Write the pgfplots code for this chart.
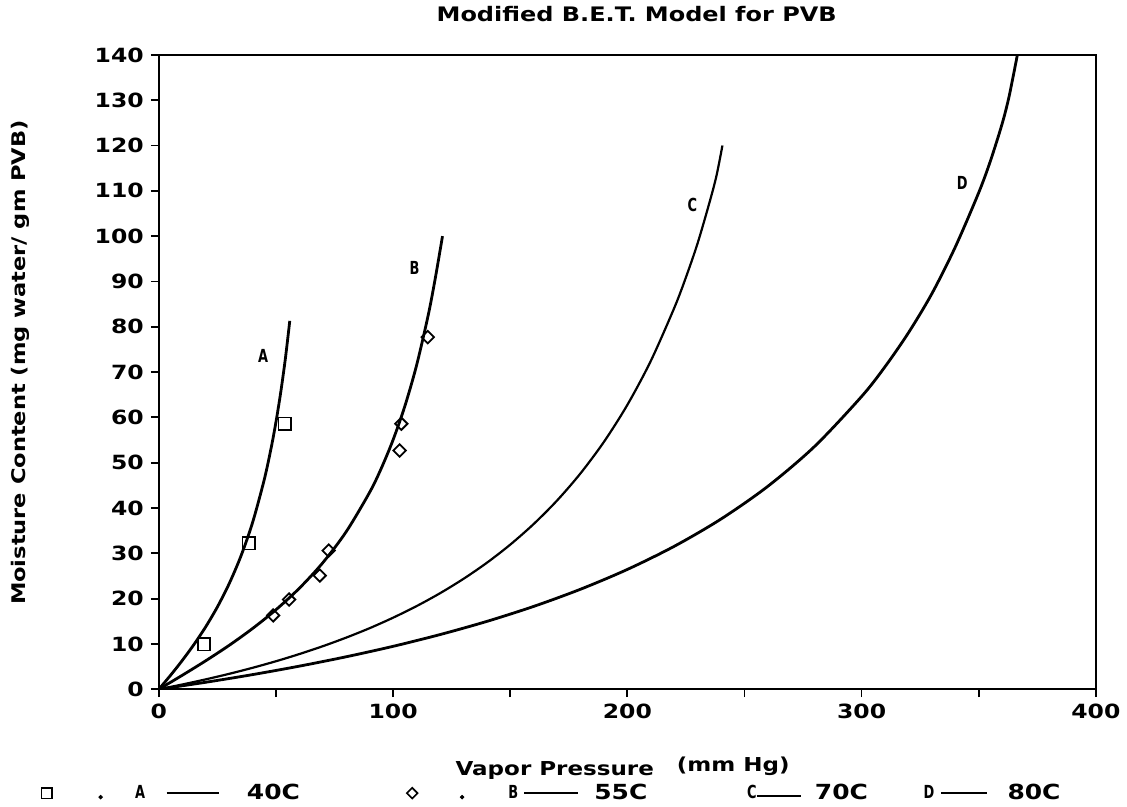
\documentclass[border=0pt]{standalone}
\usepackage{fontspec}
\setmainfont{DejaVu Sans}[FakeStretch=1.2]
\newfontfamily\narrowfont{DejaVu Sans}[FakeStretch=0.72]
\usepackage{pgfplots}
\pgfplotsset{compat=1.18}

\newcommand{\lblfont}{\narrowfont\bfseries\fontsize{9}{10}\selectfont}

\begin{document}
\begin{tikzpicture}
\begin{axis}[
  scale only axis, width=469pt, height=317.5pt,
  xmin=0, xmax=400, ymin=0, ymax=140,
  xtick={0,100,200,300,400},
  minor xtick={50,150,250,350},
  ytick={0,10,...,140},
  tick pos=left, tick align=outside,
  major tick length=4pt, minor tick length=4pt,
  every tick/.style={black, line width=0.9pt},
  axis line style={line width=1pt},
  /pgf/number format/assume math mode=true,
  ticklabel style={font=\bfseries\fontsize{9.8}{11}\selectfont},
  title={Modified B.E.T. Model for PVB},
  title style={font=\bfseries\fontsize{10}{12}\selectfont, at={(axis description cs:0.51,1.045)}, anchor=center},
  xlabel={Vapor Pressure\hspace{1.2em}\raisebox{2pt}{(mm Hg)}},
  xlabel style={font=\bfseries\fontsize{9.6}{11}\selectfont, at={(axis description cs:0.495,-0.124)}, anchor=center},
  ylabel={Moisture Content (mg water/ gm PVB)},
  ylabel style={font=\bfseries\fontsize{9.4}{11}\selectfont, at={(axis description cs:-0.148,0.515)}, anchor=center},
  legend columns=4,
  legend style={at={(axis description cs:0,-0.1638)}, anchor=west, xshift=-60pt,
    draw=none, fill=none, inner xsep=0pt, inner ysep=0pt,
    nodes={inner sep=0pt, font=\bfseries\fontsize{10.4}{12}\selectfont}},
  legend cell align=left,
]
% fitted curves
\addplot[black, line width=1.4pt, smooth, forget plot] coordinates {
(0,0) (5,3.08) (10,6.35) (15,9.88) (20,13.77) (25,18.17) (30,23.27) (35,29.33)
(40,36.76) (45,46.26) (48,53.40) (50,58.98) (52,65.41) (54,72.89) (55.9,81.3)};
\addplot[black, line width=1.4pt, smooth, forget plot] coordinates {
(0,0) (10,3.08) (20,6.28) (30,9.68) (40,13.40) (50,17.55) (60,22.30) (70,27.92)
(80,34.78) (90,43.47) (95,48.80) (100,55.04) (105,62.44) (110,71.43) (115,82.57)
(118,90.66) (121.1,100)};
\addplot[black, line width=1.1pt, smooth, forget plot] coordinates {
(0,0) (10,1.05) (20,2.18) (30,3.40) (40,4.73) (50,6.18) (60,7.77) (70,9.50)
(80,11.40) (90,13.48) (100,15.79) (110,18.34) (120,21.18) (130,24.35) (140,27.90)
(150,31.91) (160,36.46) (170,41.65) (180,47.64) (190,54.59) (200,62.75) (210,72.44)
(220,84.12) (225,90.89) (230,98.43) (235,107.3) (238,113.2) (240.6,120.0)};
\addplot[black, line width=1.4pt, smooth, forget plot] coordinates {
(0,0) (20,1.54) (40,3.23) (60,5.10) (80,7.17) (100,9.47) (120,12.06) (140,14.97)
(160,18.28) (180,22.07) (200,26.44) (220,31.54) (240,37.57) (260,44.80) (280,53.62)
(300,64.61) (310,71.18) (320,78.67) (330,87.3) (340,97.6) (350,109.6) (355,116.6)
(360,124.8) (363,130.9) (366.5,140)};
% data points
\addplot[only marks, mark=square, mark size=3.1pt, mark options={line width=0.9pt, fill=white}, forget plot] coordinates {
(19.2,9.9) (38.4,32.2) (53.7,58.6)};
\addplot[only marks, mark=square, mark size=2.2pt, mark options={rotate=45, line width=0.9pt, fill=white}, forget plot] coordinates {
(48.8,16.3) (55.6,19.8) (68.7,25.1) (72.5,30.6) (102.8,52.7) (103.5,58.6) (114.8,77.7)};
% curve labels
\node[font=\lblfont] at (axis cs:44.5,73.5) {A};
\node[font=\lblfont] at (axis cs:109.2,93) {B};
\node[font=\lblfont] at (axis cs:227.8,106.8) {C};
\node[font=\lblfont] at (axis cs:343,111.8) {D};
% legend
\addlegendimage{legend image code/.code={
  \path (-3.5pt,0) (100pt,0);
  \draw[only marks, mark=square, mark size=2.6pt, mark options={line width=0.8pt}] plot coordinates {(0pt,0pt)};
  \fill (27pt,-2pt) circle (0.9pt);
  \node[font=\lblfont, inner sep=0pt] at (44pt,0pt) {A};
  \draw[line width=0.9pt] (60pt,0pt) -- (86pt,0pt);
}}
\addlegendentry{\makebox[79pt][l]{40C}}
\addlegendimage{legend image code/.code={
  \path (-3.5pt,0) (91pt,0);
  \draw[only marks, mark=square, mark size=1.9pt, mark options={rotate=45, line width=0.8pt}] plot coordinates {(0pt,0pt)};
  \fill (25pt,-2pt) circle (0.9pt);
  \node[font=\lblfont, inner sep=0pt] at (48pt,0pt) {B};
  \draw[line width=0.9pt] (56pt,0pt) -- (83pt,0pt);
}}
\addlegendentry{\makebox[72pt][l]{55C}}
\addlegendimage{legend image code/.code={
  \path (-4pt,0) (34pt,0);
  \node[font=\lblfont, inner sep=0pt] at (0pt,0pt) {C};
  \draw[line width=0.9pt] (5pt,-1.5pt) -- (27pt,-1.5pt);
}}
\addlegendentry{\makebox[50pt][l]{70C}}
\addlegendimage{legend image code/.code={
  \path (-4pt,0) (42pt,0);
  \node[font=\lblfont, inner sep=0pt] at (0pt,0pt) {D};
  \draw[line width=0.9pt] (9pt,0pt) -- (32pt,0pt);
}}
\addlegendentry{80C}
\end{axis}
\path (current axis.south west) ++(-79.5pt,-58.5pt) coordinate (bbA);
\path (current axis.north east) ++(15pt,22pt) coordinate (bbB);
\path (bbA) rectangle (bbB);
\end{tikzpicture}
\end{document}
